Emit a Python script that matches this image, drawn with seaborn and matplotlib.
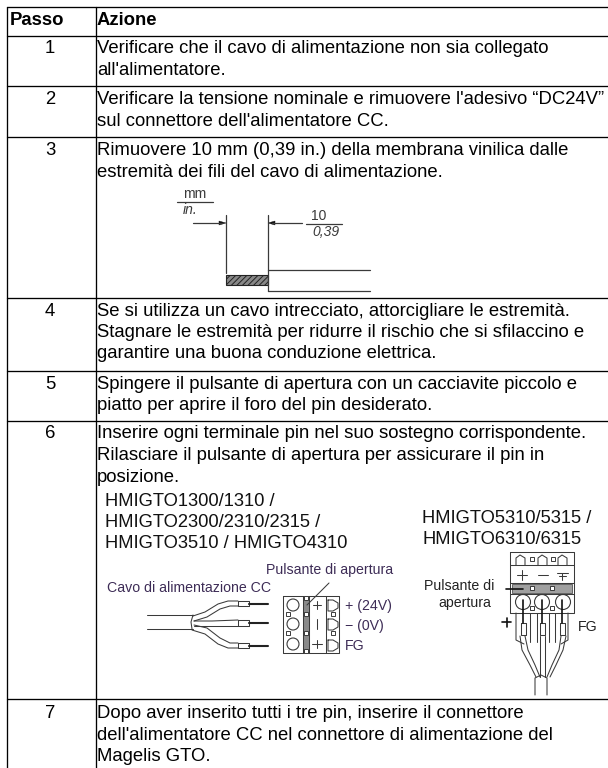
import matplotlib
matplotlib.use("Agg")
import matplotlib.pyplot as plt
import matplotlib.patches as mpatches
import pandas as pd
import seaborn as sns

OUT_PATH = "out.png"
W, H = 608, 768

# table content
step_labels = ["1", "2", "3", "4", "5", "6", "7"]
step_baselines = [53, 104, 155, 316, 389, 438, 718]
row_rules = [7, 36, 86, 137, 298, 371, 421, 699]
col_rules = [7, 95.5]

action_lines = [
    ("Verificare che il cavo di alimentazione non sia collegato", 53),
    ("all'alimentatore.", 75),
    ("Verificare la tensione nominale e rimuovere l'adesivo \u201cDC24V\u201d", 104),
    ("sul connettore dell'alimentatore CC.", 126),
    ("Rimuovere 10 mm (0,39 in.) della membrana vinilica dalle", 155),
    ("estremit\u00e0 dei fili del cavo di alimentazione.", 177),
    ("Se si utilizza un cavo intrecciato, attorcigliare le estremit\u00e0.", 316),
    ("Stagnare le estremit\u00e0 per ridurre il rischio che si sfilaccino e", 337),
    ("garantire una buona conduzione elettrica.", 358),
    ("Spingere il pulsante di apertura con un cacciavite piccolo e", 389),
    ("piatto per aprire il foro del pin desiderato.", 410),
    ("Inserire ogni terminale pin nel suo sostegno corrispondente.", 438),
    ("Rilasciare il pulsante di apertura per assicurare il pin in", 460),
    ("posizione.", 482),
    ("Dopo aver inserito tutti i tre pin, inserire il connettore", 718),
    ("dell'alimentatore CC nel connettore di alimentazione del", 740),
    ("Magelis GTO.", 761),
]
model_lines = [
    ("HMIGTO1300/1310 /", 105, 506),
    ("HMIGTO2300/2310/2315 /", 105, 527),
    ("HMIGTO3510 / HMIGTO4310", 105, 548),
    ("HMIGTO5310/5315 /", 422, 523),
    ("HMIGTO6310/6315", 422, 544),
]
purple_labels = [
    ("Pulsante di apertura", 266, 574),
    ("Cavo di alimentazione CC", 107, 592),
    ("+ (24V)", 345, 610),
    ("\u2212 (0V)", 345, 630),
    ("FG", 345, 650),
]
black_labels = [
    ("Pulsante di", 424, 590),
    ("apertura", 438, 607),
    ("FG", 578, 631),
]

# strip diagram, step 3
strip_thin = [
    [(177, 202), (213, 202)],
    [(306, 224), (342, 224)],
    [(226, 215), (226, 273)],
    [(268, 215), (268, 270)],
    [(268, 270), (370, 270)],
    [(268, 291), (370, 291)],
    [(268, 270), (268, 291)],
    [(193, 223), (222, 223)],
    [(302, 223), (272, 223)],
]

# wiring diagram, left
left_dark = [
    [(147, 615), (193, 615)],
    [(147, 629), (193, 629)],
    [(193, 615), (191, 622), (192, 629)],
    [(193, 616), (205, 612), (218, 604), (228, 601), (238, 601)],
    [(194, 621), (207, 617), (220, 609), (230, 606), (238, 606)],
    [(194, 621), (212, 621), (238, 620)],
    [(194, 626), (212, 626), (238, 626)],
    [(194, 625), (207, 628), (220, 638), (230, 643), (238, 643)],
    [(192, 630), (205, 634), (218, 644), (228, 648), (238, 648)],
    [(238, 601), (249, 601), (249, 606), (238, 606), (238, 601)],
    [(238, 620), (249, 620), (249, 626), (238, 626), (238, 620)],
    [(238, 643), (249, 643), (249, 648), (238, 648), (238, 643)],
    [(329, 583), (307, 605)],
    [(283, 596), (339, 596), (339, 653), (283, 653), (283, 596)],
    [(303, 596), (303, 653)],
    [(309, 596), (309, 653)],
    [(326, 596), (326, 653)],
    [(328, 600), (333, 600), (338, 603), (338, 608), (333, 611), (328, 611), (328, 600)],
    [(328, 619), (333, 619), (338, 622), (338, 627), (333, 630), (328, 630), (328, 619)],
    [(328, 640), (333, 640), (338, 643), (338, 648), (333, 651), (328, 651), (328, 640)],
    [(313, 605), (321, 605)],
    [(317, 601), (317, 609)],
    [(317, 619), (317, 629)],
    [(312, 644), (322, 644)],
    [(317, 640), (317, 648)],
]
left_pins = [
    [(249, 603.5), (268, 603.5)],
    [(249, 623), (268, 623)],
    [(249, 645.5), (268, 645.5)],
]
left_circles = [(293, 605), (293, 624), (293, 644)]
left_squares = [(288, 614), (288, 633), (333, 614), (333, 633), (306, 598), (306, 614), (306, 633), (306, 651)]
left_bars = [(303, 597, 6, 55)]

# wiring diagram, right
right_dark = [
    [(510, 552), (574, 552), (574, 613), (510, 613), (510, 552)],
    [(510, 565), (574, 565)],
    [(510, 583), (574, 583)],
    [(510, 594), (574, 594)],
    [(516, 613), (516, 640), (524, 644)],
    [(530, 613), (530, 642)],
    [(537, 613), (537, 642)],
    [(549, 613), (549, 642)],
    [(555, 613), (555, 642)],
    [(568, 613), (568, 640), (561, 644)],
    [(516, 565), (516, 558), (520, 555), (525, 558), (525, 565)],
    [(538, 565), (538, 558), (542, 555), (547, 558), (547, 565)],
    [(558, 565), (558, 558), (562, 555), (567, 558), (567, 565)],
    [(517, 575), (527, 575)],
    [(522, 570), (522, 580)],
    [(538, 575), (548, 575)],
    [(557, 573), (568, 573)],
    [(559, 576), (566, 576)],
    [(562, 573), (562, 580)],
    [(520, 636), (522, 650), (530, 665), (536, 677)],
    [(525, 636), (528, 650), (535, 665), (540, 677)],
    [(540, 636), (540, 677)],
    [(545, 636), (545, 677)],
    [(561, 636), (559, 650), (552, 665), (547, 677)],
    [(566, 636), (563, 650), (556, 665), (550, 677)],
    [(535, 695), (535, 678), (541, 675), (547, 678), (547, 695)],
    [(521, 623), (526, 623), (526, 635), (521, 635), (521, 623)],
    [(540, 623), (545, 623), (545, 635), (540, 635), (540, 623)],
    [(560, 623), (565, 623), (565, 635), (560, 635), (560, 623)],
]
right_pins = [
    [(523, 600), (523, 623)],
    [(542, 600), (542, 623)],
    [(562, 600), (562, 623)],
    [(506, 589), (523, 589)],
    [(502, 622), (511, 622)],
    [(506.5, 618), (506.5, 627)],
]
right_circles = [(523, 602), (542, 602), (563, 602)]
right_squares = [(532, 608), (552, 608), (532, 559), (553, 559), (532, 588), (552, 588)]
right_bars = [(512, 584, 60, 9)]

INK = "#111111"
GREY = "#3a3a3a"
PURPLE = "#3d2c56"


def draw_paths(ax, paths, color, lw):
    # one frame per group of strokes, seaborn keeps them apart through units
    rows = []
    for i, path in enumerate(paths):
        for x, y in path:
            rows.append({"x": x, "y": y, "stroke": i})
    df = pd.DataFrame(rows)
    sns.lineplot(data=df, x="x", y="y", units="stroke", estimator=None, sort=False,
                 color=color, linewidth=lw, ax=ax, legend=False)


def draw_shapes(ax, circles, radius, squares, bars, hatch_color):
    for cx, cy in circles:
        ax.add_patch(mpatches.Circle((cx, cy), radius, fill=False, ec=GREY, lw=0.8))
    for sx, sy in squares:
        ax.add_patch(mpatches.Rectangle((sx - 2, sy - 2), 4, 4, fc="white", ec=GREY, lw=0.7, zorder=3))
    for bx, by, bw, bh in bars:
        ax.add_patch(mpatches.Rectangle((bx, by), bw, bh, fc=hatch_color, ec=GREY, lw=0.5))


def main():
    sns.set_theme(style="white")
    plt.rcParams["font.family"] = ["Liberation Sans", "DejaVu Sans"]
    plt.rcParams["hatch.linewidth"] = 0.7

    fig = plt.figure(figsize=(W / 100, H / 100), dpi=100, facecolor="white")
    ax = fig.add_axes([0, 0, 1, 1])

    # table rules run off the right and bottom of the page
    rules = [[(7, y), (W, y)] for y in row_rules] + [[(x, 7), (x, H)] for x in col_rules]
    draw_paths(ax, rules, "black", 0.95)

    body = 13.35
    ax.text(10, 25, "Passo", fontsize=body, fontweight="bold", color="black")
    ax.text(97, 25, "Azione", fontsize=body, fontweight="bold", color="black")
    for label, y in zip(step_labels, step_baselines):
        ax.text(50, y, label, fontsize=body, ha="center", color="black")
    for line, y in action_lines:
        ax.text(97, y, line, fontsize=body, color="black")
    for line, x, y in model_lines:
        ax.text(x, y, line, fontsize=13.25, color="#111111")

    # step 3 strip drawing
    draw_paths(ax, strip_thin, GREY, 0.9)
    ax.add_patch(mpatches.Rectangle((226, 275), 42, 10, fc="#888888", ec="#222222", lw=0.8, hatch="//////"))
    ax.add_patch(mpatches.Polygon([(226, 223), (219, 221), (219, 225)], fc=INK, ec=INK, lw=0.3))
    ax.add_patch(mpatches.Polygon([(268, 223), (275, 221), (275, 225)], fc=INK, ec=INK, lw=0.3))
    ax.text(195, 198, "mm", fontsize=10, ha="center", color=GREY)
    ax.text(190, 214, "in.", fontsize=10, ha="center", style="italic", color=GREY)
    ax.text(319, 220, "10", fontsize=10, ha="center", color=GREY)
    ax.text(312, 236, "0,39", fontsize=10, style="italic", color=GREY)

    # step 6 left wiring
    draw_shapes(ax, left_circles, 6, left_squares, left_bars, "#8a8a8a")
    draw_paths(ax, left_dark, GREY, 0.75)
    draw_paths(ax, left_pins, "#222222", 1.5)
    for line, x, y in purple_labels:
        ax.text(x, y, line, fontsize=10.2, color=PURPLE)

    # step 6 right wiring
    draw_shapes(ax, right_circles, 7.5, right_squares, right_bars, "#a0a0a0")
    draw_paths(ax, right_dark, GREY, 0.75)
    draw_paths(ax, right_pins, "#111111", 1.2)
    for line, x, y in black_labels:
        ax.text(x, y, line, fontsize=10.2, color="#222222")

    ax.set_xlim(0, W)
    ax.set_ylim(H, 0)
    ax.set_xlabel("")
    ax.set_ylabel("")
    ax.axis("off")
    fig.savefig(OUT_PATH, dpi=100)
    plt.close(fig)


if __name__ == "__main__":
    main()
